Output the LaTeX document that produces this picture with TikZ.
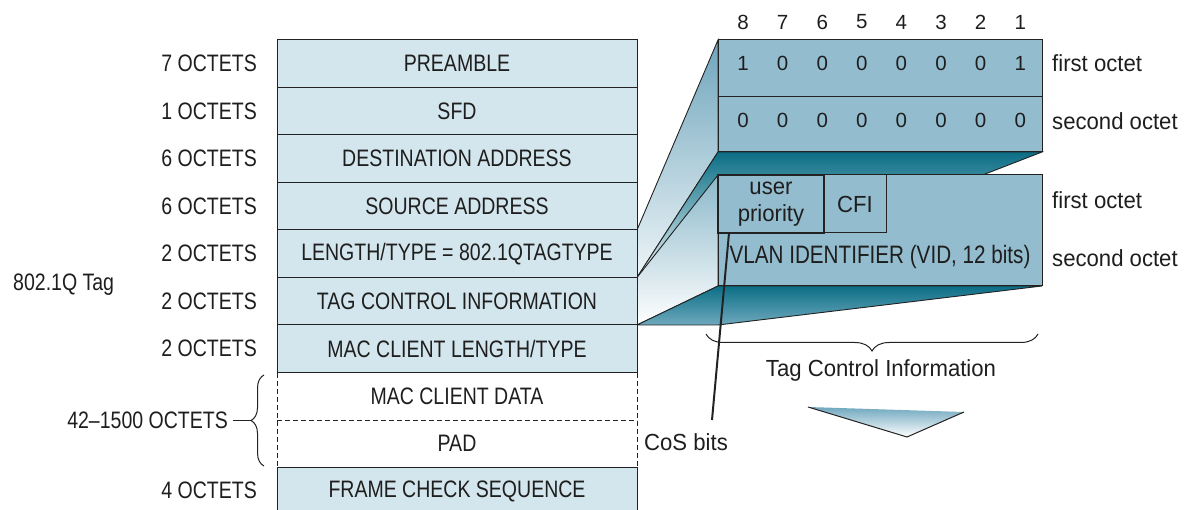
\documentclass[tikz,border=0pt]{standalone}
\usepackage{fontspec}
\setmainfont{Liberation Sans}
\newfontfamily\condfont{Liberation Sans}[FakeStretch=0.82]
\newfontfamily\lowfont{Liberation Sans}[FakeStretch=0.95]
\usetikzlibrary{positioning}
\usetikzlibrary{decorations.pathreplacing}
\usetikzlibrary{backgrounds}

\definecolor{framefill}{HTML}{D4E6ED}
\definecolor{boxfill}{HTML}{93BCCE}
\definecolor{tealdark}{HTML}{0B6E86}
\definecolor{teallight}{HTML}{6FA9BD}
\definecolor{wedgetop}{HTML}{6FA5BC}
\definecolor{wedgetwo}{HTML}{8BB8CA}
\definecolor{wedgebot}{HTML}{EEF5F8}
\definecolor{tritop}{HTML}{6FA7BE}
\definecolor{textgray}{HTML}{1E1E1E}
\definecolor{linegray}{HTML}{222222}

\tikzset{
	captxt/.style={font=\condfont\fontsize{23.8}{28}\selectfont,text=textgray},
	lowtxt/.style={font=\lowfont\fontsize{23.3}{27}\selectfont,text=textgray},
	digit/.style={font=\fontsize{20.5}{24}\selectfont,text=textgray,inner sep=0pt},
	field/.style={draw=linegray,line width=1pt,fill=framefill,minimum width=360pt,minimum height=47.5pt,inner sep=0pt,outer sep=0pt,captxt},
	octets/.style={captxt,inner sep=0pt},
	cell/.style={draw=linegray,line width=1pt,fill=boxfill,minimum width=324pt,inner sep=0pt,outer sep=0pt},
	wedge/.style={draw=linegray,line width=0.9pt}
}

\begin{document}
\begin{tikzpicture}[x=1pt,y=-1pt]
	\clip (0,0) rectangle (1196,510);

	\node[field] (pre) at (457,63.75) {PREAMBLE};
	\node[field,below=0pt of pre] (sfd) {SFD};
	\node[field,below=0pt of sfd] (dst) {DESTINATION ADDRESS};
	\node[field,below=0pt of dst] (src) {SOURCE ADDRESS};
	\node[field,below=0pt of src] (len) {LENGTH/TYPE = 802.1QTAGTYPE};
	\node[field,below=0pt of len] (tag) {TAG CONTROL INFORMATION};
	\node[field,below=0pt of tag] (mlen) {MAC CLIENT LENGTH/TYPE};
	\node[field,draw=none,fill=white,below=0pt of mlen] (data) {MAC CLIENT DATA};
	\node[field,draw=none,fill=white,below=0pt of data] (pad) {PAD};
	\node[field,below=0pt of pad] (fcs) {FRAME CHECK SEQUENCE};
	\draw[linegray,line width=1pt,dash pattern=on 5pt off 3pt] (mlen.south west) -- (fcs.north west);
	\draw[linegray,line width=1pt,dash pattern=on 5pt off 3pt] (mlen.south east) -- (fcs.north east);
	\draw[linegray,line width=1pt,dash pattern=on 5pt off 3pt] (data.south west) -- (data.south east);

	\node[octets,left=20pt of pre] (npre) {7 OCTETS};
	\node[octets,left=20pt of sfd] (nsfd) {1 OCTETS};
	\node[octets,left=20pt of dst] (ndst) {6 OCTETS};
	\node[octets,left=20pt of src] (nsrc) {6 OCTETS};
	\node[octets,left=20pt of len] (nlen) {2 OCTETS};
	\node[octets,left=20pt of tag] (ntag) {2 OCTETS};
	\node[octets,left=20pt of mlen] (nmlen) {2 OCTETS};
	\node[octets,left=20pt of fcs.north west,yshift=-23pt] (nfcs) {4 OCTETS};
	\node[octets,anchor=west] (qtag) at (13,285) {802.1Q Tag};
	\node[octets,anchor=east] (ndata) at (228,420.5) {42–1500 OCTETS};
	\coordinate (bbot) at (264,466);
	\coordinate (btop) at (264,375);
	\coordinate (btip) at (251,420.5);
	\coordinate (bend) at (233,420.5);
	\draw[linegray,line width=1pt,decorate,decoration={brace,amplitude=13pt}] (bbot) -- (btop);
	\draw[linegray,line width=1pt] (btip) -- (bend);

	\node[cell,minimum height=57pt] (oct1) at (880,68.5) {};
	\node[cell,minimum height=55pt,below=0pt of oct1] (oct2) {};
	\node[cell,minimum height=111pt] (tci) at (880,230.5) {};
	\node[cell,minimum width=106pt,minimum height=58pt,anchor=north west,line width=2.2pt,align=center,lowtxt] (up) at (tci.north west) {user\\[0pt]priority};
	\node[cell,minimum width=62pt,minimum height=58pt,anchor=north west,lowtxt] (cfi) at (up.north east) {CFI};
	\node[captxt,font=\condfont\fontsize{25.2}{28}\selectfont] (vid) at (880,257) {VLAN IDENTIFIER (VID, 12 bits)};

	\foreach \n [count=\i from 0] in {8,...,1}
		\node[digit] (b\n) at ({743+39.6*\i},22) {\n};
	\foreach \v [count=\i from 0] in {1,0,0,0,0,0,0,1}
		\node[digit] (f\i) at ({743+39.6*\i},63) {\v};
	\foreach \v [count=\i from 0] in {0,0,0,0,0,0,0,0}
		\node[digit] (s\i) at ({743+39.6*\i},120) {\v};

	\node[lowtxt,anchor=west,inner sep=0pt] (o1) at (1052,63) {first octet};
	\node[lowtxt,anchor=west,inner sep=0pt] (o2) at (1052,121) {second octet};
	\node[lowtxt,anchor=west,inner sep=0pt] (o3) at (1052,200) {first octet};
	\node[lowtxt,anchor=west,inner sep=0pt] (o4) at (1052,258) {second octet};

	\begin{scope}[on background layer]
		\shadedraw[wedge,top color=wedgetop,bottom color=wedgebot] (len.north east) -- (oct1.north west) -- (oct2.south west) -- (len.south east) -- cycle;
		\shadedraw[wedge,top color=tealdark,bottom color=wedgebot] (len.south east) -- (oct2.south west) -- (oct2.south east) -- (oct2.south west |- len.south east) -- cycle;
		\shadedraw[wedge,top color=wedgetwo,bottom color=white] (tag.north east) -- (tci.north west) -- (tci.south west) -- (tag.south east) -- cycle;
		\shadedraw[wedge,top color=tealdark,bottom color=teallight] (tag.south east) -- (tci.south west) -- (tci.south east) -- (tci.south west |- tag.south east) -- cycle;
	\end{scope}

	\node[lowtxt,anchor=west,inner sep=0pt] (cos) at (644,442) {CoS bits};
	\coordinate (cosend) at (712,420);
	\draw[linegray,line width=2pt] ([xshift=11pt]up.south west) -- (cosend);

	\coordinate (bl) at (706,334);
	\coordinate (br) at (1038,334);
	\draw[linegray,line width=1pt,decorate,decoration={brace,amplitude=17pt}] (br) -- (bl);
	\node[lowtxt] (tcil) at (881,370) {Tag Control Information};

	\coordinate (ta) at (808,407);
	\coordinate (tb) at (964,412);
	\coordinate (tc) at (907,437);
	\shade[top color=tritop,bottom color=white] (ta) -- (tb) -- (tc) -- cycle;
	\draw[linegray,line width=1pt] (ta) -- (tc) -- (tb);
\end{tikzpicture}
\end{document}
